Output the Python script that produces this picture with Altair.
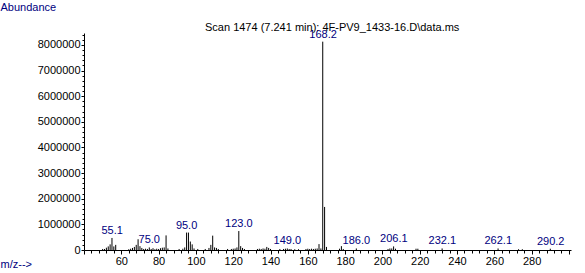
import altair as alt
import pandas as pd

# ---- data ----
mz = [50, 51, 52, 53, 54, 55, 56, 57,
      64, 65, 66, 67, 68, 69, 70, 71, 72, 73, 74, 75, 76, 77, 78, 79, 80, 81, 82, 83, 84, 85,
      91, 93, 94, 95, 96, 97, 98, 99, 101, 105, 107, 108, 109, 110, 111, 112,
      117, 119, 120, 121, 122, 123, 124, 125, 126,
      133, 134, 135, 136, 137, 138, 139, 140,
      145, 147, 148, 149, 150, 151, 153, 155,
      159, 160, 161, 162, 163, 164, 165, 166, 167, 168, 169, 170,
      177, 178, 179, 186,
      203, 204, 205, 206, 207, 218, 219, 232, 262, 273, 275, 290]
abundance = [40000, 40000, 90000, 140000, 220000, 470000, 140000, 200000,
             30000, 50000, 80000, 120000, 200000, 420000, 150000, 80000, 40000, 50000, 40000, 100000, 40000, 70000, 30000, 50000, 40000, 70000, 90000, 100000, 570000, 60000,
             40000, 50000, 100000, 680000, 680000, 330000, 220000, 60000, 40000, 40000, 80000, 200000, 560000, 100000, 80000, 40000,
             40000, 40000, 50000, 60000, 100000, 740000, 150000, 80000, 40000,
             40000, 50000, 40000, 60000, 50000, 120000, 80000, 40000,
             40000, 40000, 50000, 60000, 40000, 40000, 30000, 30000,
             40000, 50000, 40000, 50000, 40000, 50000, 60000, 230000, 60000, 8130000, 1680000, 120000,
             50000, 150000, 40000, 60000,
             40000, 60000, 60000, 140000, 50000, 50000, 50000, 60000, 60000, 30000, 30000, 50000]

label_mz = [55.1, 75.0, 95.0, 123.0, 149.0, 168.2, 186.0, 206.1, 232.1, 262.1, 290.2]
label_abundance = [470000, 100000, 680000, 740000, 60000, 8130000, 60000, 140000, 60000, 60000, 50000]
label_text = ["55.1", "75.0", "95.0", "123.0", "149.0", "168.2", "186.0", "206.1", "232.1", "262.1", "290.2"]

x_ticks = list(range(40, 301, 4))
y_ticks = list(range(0, 8400001, 200000))

title_text = "Scan 1474 (7.241 min): 4F-PV9_1433-16.D\\data.ms"

peaks = pd.DataFrame({"mz": mz, "ab": abundance})
labels = pd.DataFrame({"mz": label_mz, "ab": label_abundance, "text": label_text})

FONT = "Liberation Sans"
NAVY = "#000080"

x_scale = alt.Scale(domain=[40, 301.1], nice=False, zero=False)
y_scale = alt.Scale(domain=[0, 8468000], nice=False)

x_axis = alt.Axis(
    values=x_ticks, format="d",
    labelExpr="(datum.value % 20 == 0 && datum.value > 40 && datum.value < 300) ? datum.label : ''",
    labelOverlap=False, labelBound=False, labelFlush=False,
    tickSize=alt.condition("datum.value % 20 == 0", alt.value(4), alt.value(3)),
    tickColor="black", domainColor="black", labelColor="black",
    labelFont=FONT, labelFontSize=11, labelPadding=1, grid=False,
    title="m/z-->", titleFont=FONT, titleFontSize=11, titleFontWeight="normal",
    titleColor=NAVY, titleAngle=0, titleAlign="left", titleBaseline="top",
    titleX=-84, titleY=8,
)
y_axis = alt.Axis(
    values=y_ticks, format="d",
    labelExpr="datum.value % 1000000 == 0 ? datum.label : ''",
    labelOverlap=False, labelBound=False, labelFlush=False,
    tickSize=alt.condition("datum.value % 1000000 == 0", alt.value(3), alt.value(2)),
    tickColor="black", domainColor="black", labelColor="black",
    labelFont=FONT, labelFontSize=11, labelPadding=1, grid=False,
    title="Abundance", titleFont=FONT, titleFontSize=11, titleFontWeight="normal",
    titleColor=NAVY, titleAngle=0, titleAlign="left", titleBaseline="top",
    titleX=-84, titleY=-32,
)

bars = alt.Chart(peaks).mark_rule(color="black", strokeWidth=1).encode(
    x=alt.X("mz:Q", scale=x_scale, axis=x_axis),
    y=alt.Y("ab:Q", scale=y_scale, axis=y_axis),
    y2=alt.datum(0),
)

texts = alt.Chart(labels).mark_text(
    font=FONT, fontSize=11, color=NAVY, baseline="bottom", align="center", dy=-2
).encode(
    x=alt.X("mz:Q", scale=x_scale, axis=x_axis),
    y=alt.Y("ab:Q", scale=y_scale, axis=y_axis),
    text="text:N",
)

chart = alt.layer(bars, texts).properties(
    width=487,
    height=217,
    autosize=alt.AutoSizeParams(type="none"),
    padding={"left": 84, "top": 33, "right": 14, "bottom": 23},
    background="white",
    title=alt.TitleParams(
        text=title_text, anchor="start", dx=205, dy=41, offset=0,
        font=FONT, fontSize=11, fontWeight="normal", color="black",
        baseline="alphabetic",
    ),
).configure_view(stroke=None)

chart.save("out.html", embed_options={"renderer": "svg", "actions": False})
